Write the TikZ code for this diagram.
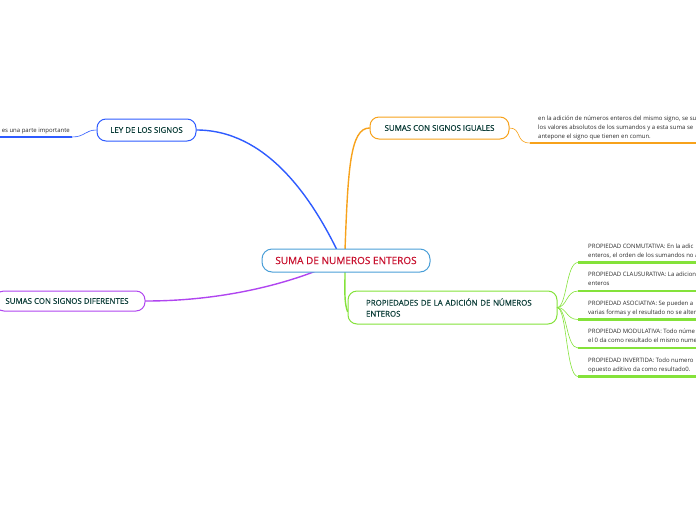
\documentclass[tikz,border=0pt]{standalone}
\usepackage{fontspec}
\setmainfont{Open Sans}
\newfontfamily\semib[FakeBold=0.6]{Open Sans}
\usetikzlibrary{backgrounds}
\definecolor{cblue}{HTML}{2E5BFF}
\definecolor{corange}{HTML}{F7A21B}
\definecolor{cpurple}{HTML}{B045F0}
\definecolor{cgreen}{HTML}{84E23A}
\definecolor{ccenter}{HTML}{4A9FD8}
\definecolor{ctext}{HTML}{0E3F3A}
\definecolor{cred}{HTML}{C8102E}
\definecolor{csmall}{HTML}{2A2A2A}
\tikzset{
  topicbox/.style={draw, rounded corners=9pt, line width=1pt, fill=white, text=ctext,
    font=\semib\fontsize{7.9}{11}\selectfont, inner sep=0pt, align=center},
  centerbox/.style={draw=ccenter, rounded corners=10pt, line width=1pt, fill=white, text=cred,
    font=\semib\fontsize{10}{12}\selectfont, inner sep=0pt, minimum width=168pt, minimum height=23pt},
  smalltext/.style={text=csmall, font=\fontsize{6}{9}\selectfont, inner sep=0pt, align=left, anchor=north west},
  branch/.style={line width=1.4pt, line cap=round},
  twig/.style={line width=0.6pt},
  underline/.style={line width=2.3pt},
}
\begin{document}
\begin{tikzpicture}[x=1pt,y=-1pt]
\useasboundingbox (0,0) rectangle (696,520);

\coordinate (cBlue) at (337,250);
\coordinate (cOrange) at (345,250);
\coordinate (cPurple) at (316,271);
\coordinate (cGreen) at (345,271);

\node[centerbox] (center) at (346,260.5) {SUMA DE NUMEROS ENTEROS};
\node[topicbox, draw=cblue, minimum width=99pt, minimum height=22pt] (ley) at (146.5,130) {LEY DE LOS SIGNOS};
\node[topicbox, draw=corange, minimum width=139pt, minimum height=22pt] (igu) at (439.5,128) {SUMAS CON SIGNOS IGUALES};
\node[topicbox, draw=cpurple, minimum width=150pt, minimum height=20pt] (dif) at (70,301) {\hspace*{-6pt}SUMAS CON SIGNOS DIFERENTES};
\node[topicbox, draw=cgreen, minimum width=209pt, minimum height=33pt, align=left, text width=173pt] (prop) at (452.5,307.5) {PROPIEDADES DE LA ADICIÓN DE NÚMEROS\\ENTEROS};

\begin{scope}[on background layer]
\draw[branch, cblue] (ley.east) .. controls (265,130) and (310,195) .. (cBlue);
\draw[branch, corange] (cOrange) .. controls (348,170) and (350,128) .. (igu.west);
\draw[branch, cpurple] (dif.east) .. controls (220,301) and (280,285) .. (cPurple);
\draw[branch, cgreen] (cGreen) .. controls (345,290) and (344,302) .. ([yshift=-4pt]prop.west);
\end{scope}

% left leaf of LEY DE LOS SIGNOS
\coordinate (lL) at (72,137);
\coordinate (lR) at (0,137);
\node[smalltext, anchor=base east] (leytxt) at (70,132) {es una parte importante};
\draw[underline, cblue] (lR) -- (lL);
\draw[twig, cblue] (lL) .. controls (85,137) and (85,130) .. (ley.west);

% right leaf of SUMAS CON SIGNOS IGUALES
\coordinate (oL) at (530,143);
\coordinate (oR) at (700,143);
\node[smalltext] (igutxt) at (538,116) {en la adición de números enteros del mismo signo, se su\\los valores absolutos de los sumandos y a esta suma se\\antepone el signo que tienen en comun.};
\draw[underline, corange] (oL) -- (oR);
\draw[twig, corange] (igu.east) .. controls (522,128) and (515,143) .. (oL);

% property leaves
\coordinate (pS) at (557,307.5);
\foreach \i/\y/\t in {
  1/262.5/{PROPIEDAD CONMUTATIVA: En la adic\\enteros, el orden de los sumandos no a},
  2/291/{PROPIEDAD CLAUSURATIVA: La adicion\\enteros},
  3/319.5/{PROPIEDAD ASOCIATIVA: Se pueden a\\varias formas y el resultado no se alter},
  4/348/{PROPIEDAD MODULATIVA: Todo núme\\el 0 da como resultado el mismo nume},
  5/376.5/{PROPIEDAD INVERTIDA: Todo numero\\opuesto aditivo da como resultado0.}} {
  \coordinate (u\i) at (578,\y);
  \coordinate (v\i) at (700,\y);
  \node[smalltext] (t\i) at (588,\y-19) {\t};
  \draw[underline, cgreen] (u\i) -- (v\i);
  \draw[twig, cgreen] (pS) .. controls (567,307.5) and (566,\y) .. (u\i);
}
\end{tikzpicture}
\end{document}
